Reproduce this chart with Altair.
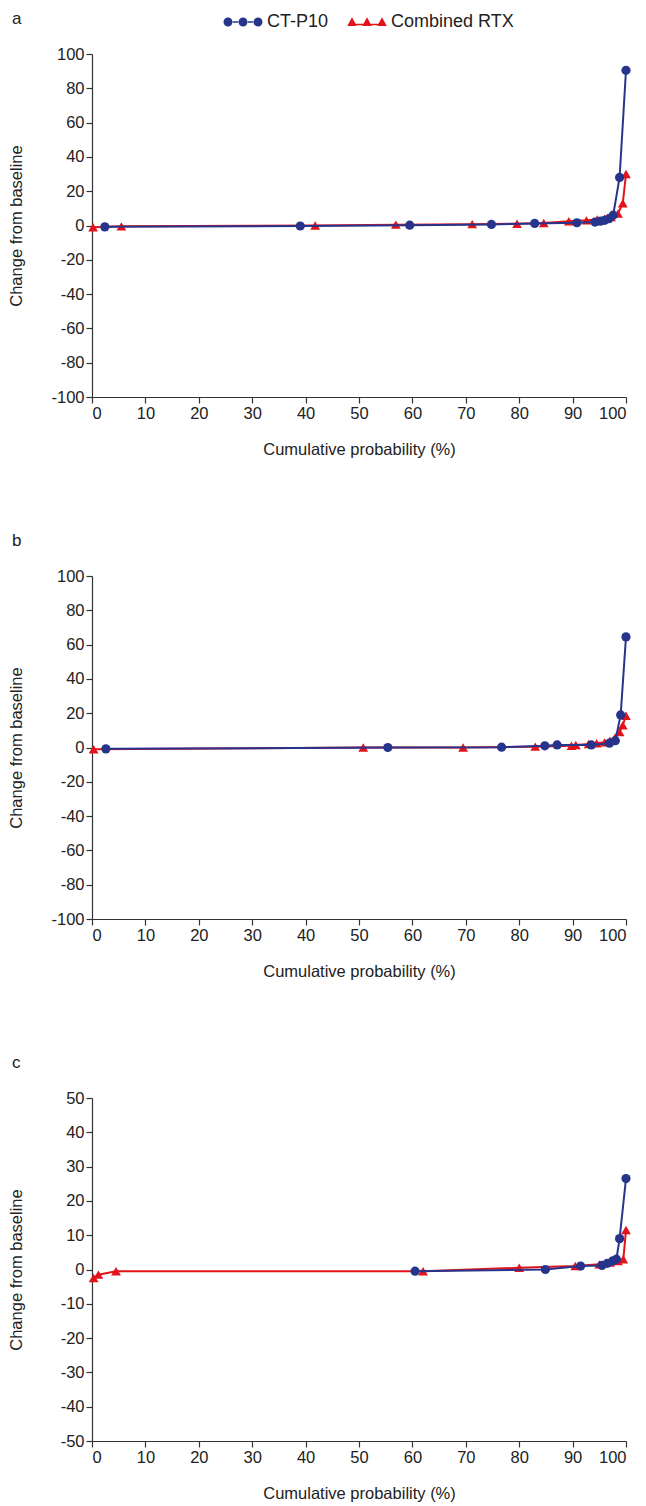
import altair as alt
import pandas as pd

SERIES = ["CT-P10", "Combined RTX"]
BLUE = "#27348b"
RED = "#e3131b"

# Panel a
a_ct_x = [2.4, 39.0, 59.5, 74.8, 82.9, 90.8, 94.2, 95.2, 96.0, 96.8, 97.6, 98.8, 100.0]
a_ct_y = [-0.8, -0.3, 0.2, 0.6, 1.2, 1.6, 2.0, 2.5, 3.0, 4.0, 6.0, 28.0, 90.5]
a_rtx_x = [0.2, 5.5, 41.8, 56.9, 71.2, 79.6, 84.6, 89.3, 92.6, 94.6, 96.0, 97.2, 98.5, 99.4, 100.0]
a_rtx_y = [-1.0, -0.5, 0.0, 0.5, 0.8, 1.0, 1.5, 2.5, 3.0, 3.5, 4.0, 5.0, 7.0, 13.0, 30.0]

# Panel b
b_ct_x = [2.6, 55.4, 76.7, 84.8, 87.1, 93.5, 96.9, 98.0, 99.0, 100.0]
b_ct_y = [-0.8, 0.0, 0.2, 1.0, 1.5, 1.5, 2.5, 4.0, 19.0, 64.5]
b_rtx_x = [0.3, 50.8, 69.5, 83.0, 89.8, 90.6, 93.0, 94.5, 96.0, 97.0, 98.0, 98.8, 99.4, 100.0]
b_rtx_y = [-1.0, 0.0, 0.0, 0.5, 1.0, 1.5, 2.0, 2.5, 3.0, 4.0, 6.0, 9.0, 13.0, 18.5]

# Panel c
c_ct_x = [60.5, 84.9, 91.5, 95.5, 96.5, 97.5, 98.2, 98.8, 100.0]
c_ct_y = [-0.5, 0.0, 1.0, 1.2, 1.8, 2.5, 3.0, 9.0, 26.5]
c_rtx_x = [0.3, 1.2, 4.5, 62.0, 80.0, 90.5, 95.0, 97.0, 98.5, 99.5, 100.0]
c_rtx_y = [-2.5, -1.5, -0.5, -0.5, 0.5, 1.0, 1.5, 2.0, 2.5, 3.0, 11.5]

Y_TICKS_AB = list(range(-100, 101, 20))
Y_TICKS_C = list(range(-50, 51, 10))
X_TICKS = list(range(0, 101, 10))


def circ(cx, r=0.9):
    return f"M{cx - r},0A{r},{r} 0 1,0 {cx + r},0A{r},{r} 0 1,0 {cx - r},0Z"


def tri(cx, h=0.95):
    return f"M{cx},{-h}L{cx + h},{h * 0.85}L{cx - h},{h * 0.85}Z"


def bar(a, b, y0, y1):
    return f"M{a},{y0}L{b},{y0}L{b},{y1}L{a},{y1}Z"


cs = [0.0, 3.0, 6.0]
CIRC_PATH = "".join(circ(c) for c in cs) + bar(cs[0] + 0.8, cs[1] - 0.8, -0.16, 0.16) + bar(cs[1] + 0.8, cs[2] - 0.8, -0.16, 0.16)
TRI_PATH = "".join(tri(c) for c in cs) + bar(cs[0] + 0.5, cs[1] - 0.5, 0.35, 0.67) + bar(cs[1] + 0.5, cs[2] - 0.5, 0.35, 0.67)

FONT = "Liberation Sans"


def make_df(ctx, cty, rx, ry):
    rows = [{"x": x, "y": y, "series": SERIES[0]} for x, y in zip(ctx, cty)]
    rows += [{"x": x, "y": y, "series": SERIES[1]} for x, y in zip(rx, ry)]
    return pd.DataFrame(rows)


color_scale = alt.Scale(domain=SERIES, range=[BLUE, RED])
shape_scale = alt.Scale(domain=SERIES, range=[CIRC_PATH, TRI_PATH])

LEG = dict(title=None, orient="none", legendX=127, legendY=-41, direction="horizontal",
           symbolSize=100, symbolStrokeWidth=0, symbolOpacity=1, labelOffset=30, columnPadding=14,
           labelFontSize=18, labelFont=FONT, labelColor="#222")


def panel(letter, df, ydom, yticks):
    base = alt.Chart(df)
    xenc = alt.X("x:Q", scale=alt.Scale(domain=[0, 100], nice=False),
                 axis=alt.Axis(values=X_TICKS, title="Cumulative probability (%)", titlePadding=20,
                               labelExpr="toString(datum.value)"))
    yenc = alt.Y("y:Q", scale=alt.Scale(domain=ydom, nice=False),
                 axis=alt.Axis(values=yticks, title="Change from baseline", titleX=-68,
                               labelExpr="toString(datum.value)"))
    layers = []
    for s, shp in [(SERIES[1], "triangle-up"), (SERIES[0], "circle")]:
        sub = base.transform_filter(alt.datum.series == s)
        layers.append(sub.mark_line(strokeWidth=2).encode(
            x=xenc, y=yenc, color=alt.Color("series:N", scale=color_scale)))
        layers.append(sub.mark_point(filled=True, opacity=1, size=85 if shp == "circle" else 95).encode(
            x=xenc, y=yenc, color=alt.Color("series:N", scale=color_scale),
            shape=alt.value(shp)))
    leg = base.transform_filter("datum.x < -1000").mark_point(filled=True, opacity=1).encode(
        x=xenc, y=yenc,
        color=alt.Color("series:N", scale=color_scale, legend=alt.Legend(**LEG)),
        shape=alt.Shape("series:N", scale=shape_scale, legend=alt.Legend(**LEG)),
    )
    layers.append(leg)
    return alt.layer(*layers).properties(
        width=534, height=343,
        title=alt.TitleParams(letter, anchor="start", frame="bounds", fontSize=17, fontWeight="normal",
                              font=FONT, color="#222", offset=18, dx=4),
    )


pa = panel("a", make_df(a_ct_x, a_ct_y, a_rtx_x, a_rtx_y), [-100, 100], Y_TICKS_AB)
pb = panel("b", make_df(b_ct_x, b_ct_y, b_rtx_x, b_rtx_y), [-100, 100], Y_TICKS_AB)
pc = panel("c", make_df(c_ct_x, c_ct_y, c_rtx_x, c_rtx_y), [-50, 50], Y_TICKS_C)

chart = alt.vconcat(pa, pb, pc, spacing=74).properties(
    padding={"left": 0, "top": 2, "right": 5, "bottom": 2}
).configure_view(stroke=None).configure_axis(
    grid=False, domainColor="#333", tickColor="#333", domainWidth=1.2, tickWidth=1.2, tickSize=6,
    labelFont=FONT, titleFont=FONT, labelFontSize=16.5, titleFontSize=16.5, labelColor="#222",
    titleColor="#222", titleFontWeight="normal", labelPadding=2,
)

chart.save("out.html", embed_options={"renderer": "svg", "actions": False})
